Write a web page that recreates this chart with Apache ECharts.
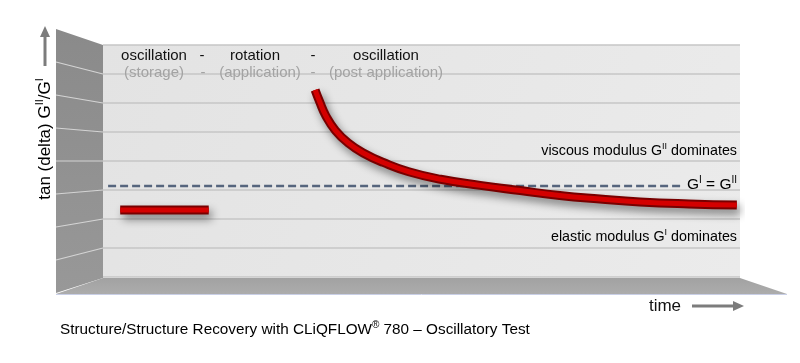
<!DOCTYPE html>
<html><head><meta charset="utf-8">
<script src="https://cdn.jsdelivr.net/npm/echarts@6/dist/echarts.min.js"></script>
<style>html,body{margin:0;padding:0;background:#fff}#c{width:800px;height:363px}</style>
</head><body><div id="c"></div>
<script>
// ---- data ----
const yTicks = [0, 1, 2, 3, 4, 5, 6, 7, 8];
const storageX = [2.7, 16.6];
const storageY = [2.31, 2.31];
const equalX = [0.8, 91.2];
const equalY = [3.14, 3.14];
const curveX = [33.3, 34.0, 35.0, 36.5, 38.5, 41.0, 44.0, 48.0, 53.0, 59.2, 65.5, 71.7, 78.0, 84.3, 92.0, 99.5];
const curveY = [6.45, 6.05, 5.55, 5.05, 4.62, 4.26, 3.95, 3.63, 3.37, 3.16, 2.98, 2.81, 2.69, 2.59, 2.52, 2.48];
const phaseTop = ['oscillation', '-', 'rotation', '-', 'oscillation'];
const phaseSub = ['(storage)', '-', '(application)', '-', '(post application)'];

const chart = echarts.init(document.getElementById('c'));
const G = {left: 103, right: 740, top: 45, bottom: 277};
const FONT = '"Liberation Sans", Arial, Helvetica, sans-serif';
const pair = (xs, ys) => xs.map((x, i) => [x, ys[i]]);

// decorative 3D wall / floor
const wallL = 56, wallTopL = 29, wallBotL = 293;
const graphics = [];
graphics.push({type: 'polygon', z: 0, shape: {points: [[wallL, wallTopL], [G.left, G.top], [G.left, G.bottom + 1], [wallL, wallBotL]]},
  style: {fill: new echarts.graphic.LinearGradient(0, 0, 0, 1, [{offset: 0, color: '#8a8a8a'}, {offset: 1, color: '#989898'}])}});
graphics.push({type: 'polygon', z: 0, shape: {points: [[G.left, G.bottom + 1], [G.right, G.bottom + 1], [787, 294], [wallL, 294]]},
  style: {fill: new echarts.graphic.LinearGradient(0, 0, 0, 1, [{offset: 0, color: '#a2a2a2'}, {offset: 1, color: '#acacac'}])}});
graphics.push({type: 'line', z: 1, shape: {x1: wallL, y1: 294.5, x2: 787, y2: 294.5}, style: {stroke: '#c9cfe6', lineWidth: 1}});
yTicks.slice(1, -1).forEach(t => {
  const yr = G.bottom - (G.bottom - G.top) * t / 8;
  const yl = wallBotL - (wallBotL - wallTopL) * t / 8;
  graphics.push({type: 'line', z: 1, shape: {x1: wallL, y1: yl, x2: G.left, y2: yr}, style: {stroke: '#d4d4d4', lineWidth: 1.2}});
});
// phase labels
const topX = [154, 202, 255, 313, 386];
const subX = [154, 203, 260, 313, 386];
phaseTop.forEach((t, i) => graphics.push({type: 'text', z: 10, style: {text: t, x: topX[i], y: 56, align: 'center', verticalAlign: 'middle', font: '15px ' + FONT, fill: '#111'}}));
phaseSub.forEach((t, i) => graphics.push({type: 'text', z: 10, style: {text: t, x: subX[i], y: 73, align: 'center', verticalAlign: 'middle', font: '15px ' + FONT, fill: '#a3a3a3'}}));
const blue = '#3f5272';
const rich = (c, fs) => ({n: {fontSize: fs, fontFamily: FONT, color: c, lineHeight: fs + 4}, s: {fontSize: Math.round(fs * 0.65), fontFamily: FONT, color: c, verticalAlign: 'top', lineHeight: 10}});
graphics.push({type: 'text', z: 10, style: {text: '{n|viscous modulus G}{s|II}{n| dominates}', rich: rich(blue, 14.3), x: 737, y: 151, align: 'right', verticalAlign: 'middle'}});
graphics.push({type: 'text', z: 10, style: {text: '{n|G}{s|I}{n| = G}{s|II}', rich: rich(blue, 15.5), x: 737, y: 185, align: 'right', verticalAlign: 'middle'}});
graphics.push({type: 'text', z: 10, style: {text: '{n|elastic modulus G}{s|I}{n| dominates}', rich: rich(blue, 14.3), x: 737, y: 237, align: 'right', verticalAlign: 'middle'}});
// axis titles
graphics.push({type: 'text', z: 10, x: 45, y: 139, rotation: Math.PI / 2,
  style: {text: '{n|tan (delta) G}{s|II}{n|/G}{s|I}', rich: rich('#111', 17), x: 0, y: 0, align: 'center', verticalAlign: 'middle'}});
graphics.push({type: 'line', z: 10, shape: {x1: 45, y1: 66, x2: 45, y2: 36}, style: {stroke: '#7c7c7c', lineWidth: 3}});
graphics.push({type: 'polygon', z: 10, shape: {points: [[45, 26], [40, 37], [50, 37]]}, style: {fill: '#7c7c7c'}});
graphics.push({type: 'text', z: 10, style: {text: 'time', x: 665, y: 306, align: 'center', verticalAlign: 'middle', font: '17px ' + FONT, fill: '#111'}});
graphics.push({type: 'line', z: 10, shape: {x1: 692, y1: 306, x2: 735, y2: 306}, style: {stroke: '#7c7c7c', lineWidth: 3}});
graphics.push({type: 'polygon', z: 10, shape: {points: [[744, 306], [733, 301], [733, 311]]}, style: {fill: '#7c7c7c'}});
graphics.push({type: 'text', z: 10, style: {text: '{n|Structure/Structure Recovery with CLiQFLOW}{s|®}{n| 780 – Oscillatory Test}', rich: rich('#111', 15.3), x: 60, y: 330, align: 'left', verticalAlign: 'middle'}});

const redOuter = {color: '#780000', width: 9, cap: 'butt', join: 'round', shadowBlur: 8, shadowOffsetX: 3, shadowOffsetY: 5, shadowColor: 'rgba(0,0,0,0.45)'};
const redInner = {color: '#d40000', width: 5, cap: 'butt', join: 'round'};

chart.setOption({
  animation: false,
  grid: {left: G.left, right: 800 - G.right, top: G.top, bottom: 363 - G.bottom, show: true, borderWidth: 0,
    backgroundColor: new echarts.graphic.LinearGradient(0, 0, 1, 1, [{offset: 0, color: '#e3e3e3'}, {offset: 1, color: '#ebebeb'}])},
  xAxis: {type: 'value', min: 0, max: 100, show: false},
  yAxis: {type: 'value', min: 0, max: 8, interval: 1, axisLine: {show: false}, axisTick: {show: false}, axisLabel: {show: false},
    splitLine: {show: true, lineStyle: {color: '#c6c6c6', width: 1.5}}},
  graphic: graphics,
  series: [
    {type: 'line', data: pair(equalX, equalY), symbol: 'none', z: 3, lineStyle: {color: '#56657d', width: 2.5, type: [8, 4]}},
    {type: 'line', data: pair(storageX, storageY), symbol: 'none', z: 4, lineStyle: redOuter},
    {type: 'line', data: pair(storageX, storageY), symbol: 'none', z: 5, lineStyle: redInner},
    {type: 'line', data: pair(curveX, curveY), symbol: 'none', smooth: 0.5, z: 4, lineStyle: redOuter},
    {type: 'line', data: pair(curveX, curveY), symbol: 'none', smooth: 0.5, z: 5, lineStyle: redInner}
  ]
});
</script></body></html>
